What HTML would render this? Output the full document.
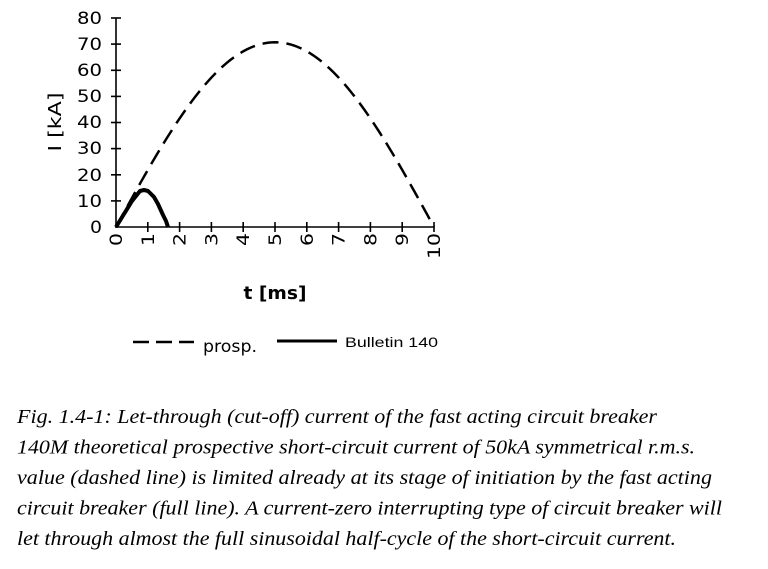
<!DOCTYPE html>
<html><head><meta charset="utf-8"><style>
html,body{margin:0;padding:0;background:#fff}
svg{display:block}
</style></head><body>
<svg width="768" height="569" viewBox="0 0 768 569" xmlns="http://www.w3.org/2000/svg">
<g stroke="#000" stroke-width="1.6" fill="none">
<line x1="116" y1="18" x2="116" y2="228"/>
<line x1="116" y1="227" x2="434" y2="227"/>
<line x1="111" y1="18.0" x2="121" y2="18.0"/>
<line x1="111" y1="44.1" x2="121" y2="44.1"/>
<line x1="111" y1="70.3" x2="121" y2="70.3"/>
<line x1="111" y1="96.4" x2="121" y2="96.4"/>
<line x1="111" y1="122.5" x2="121" y2="122.5"/>
<line x1="111" y1="148.6" x2="121" y2="148.6"/>
<line x1="111" y1="174.8" x2="121" y2="174.8"/>
<line x1="111" y1="200.9" x2="121" y2="200.9"/>
<line x1="147.8" y1="222" x2="147.8" y2="232"/>
<line x1="179.6" y1="222" x2="179.6" y2="232"/>
<line x1="211.4" y1="222" x2="211.4" y2="232"/>
<line x1="243.2" y1="222" x2="243.2" y2="232"/>
<line x1="275" y1="222" x2="275" y2="232"/>
<line x1="306.8" y1="222" x2="306.8" y2="232"/>
<line x1="338.6" y1="222" x2="338.6" y2="232"/>
<line x1="370.4" y1="222" x2="370.4" y2="232"/>
<line x1="402.2" y1="222" x2="402.2" y2="232"/>
<line x1="434" y1="222" x2="434" y2="232"/>
</g>
<g font-family="'DejaVu Sans',sans-serif" font-size="16.5" fill="#000" text-anchor="end">
<text x="102" y="24" textLength="25" lengthAdjust="spacingAndGlyphs">80</text>
<text x="102" y="50" textLength="25" lengthAdjust="spacingAndGlyphs">70</text>
<text x="102" y="76" textLength="25" lengthAdjust="spacingAndGlyphs">60</text>
<text x="102" y="102" textLength="25" lengthAdjust="spacingAndGlyphs">50</text>
<text x="102" y="128" textLength="25" lengthAdjust="spacingAndGlyphs">40</text>
<text x="102" y="154" textLength="25" lengthAdjust="spacingAndGlyphs">30</text>
<text x="102" y="181" textLength="25" lengthAdjust="spacingAndGlyphs">20</text>
<text x="102" y="207" textLength="25" lengthAdjust="spacingAndGlyphs">10</text>
<text x="102" y="233" textLength="12" lengthAdjust="spacingAndGlyphs">0</text>
</g>
<g font-family="'DejaVu Sans',sans-serif" font-size="16.5" fill="#000" text-anchor="end">
<text transform="translate(122,233) rotate(-90)" textLength="13" lengthAdjust="spacingAndGlyphs">0</text>
<text transform="translate(153.8,233) rotate(-90)" textLength="13" lengthAdjust="spacingAndGlyphs">1</text>
<text transform="translate(185.6,233) rotate(-90)" textLength="13" lengthAdjust="spacingAndGlyphs">2</text>
<text transform="translate(217.4,233) rotate(-90)" textLength="13" lengthAdjust="spacingAndGlyphs">3</text>
<text transform="translate(249.2,233) rotate(-90)" textLength="13" lengthAdjust="spacingAndGlyphs">4</text>
<text transform="translate(281,233) rotate(-90)" textLength="13" lengthAdjust="spacingAndGlyphs">5</text>
<text transform="translate(312.8,233) rotate(-90)" textLength="13" lengthAdjust="spacingAndGlyphs">6</text>
<text transform="translate(344.6,233) rotate(-90)" textLength="13" lengthAdjust="spacingAndGlyphs">7</text>
<text transform="translate(376.4,233) rotate(-90)" textLength="13" lengthAdjust="spacingAndGlyphs">8</text>
<text transform="translate(408.2,233) rotate(-90)" textLength="13" lengthAdjust="spacingAndGlyphs">9</text>
<text transform="translate(440,233) rotate(-90)" textLength="26" lengthAdjust="spacingAndGlyphs">10</text>
<text transform="translate(61,122) rotate(-90)" text-anchor="middle" font-size="18" textLength="59" lengthAdjust="spacingAndGlyphs">I [kA]</text>
</g>
<text x="275" y="299" text-anchor="middle" font-family="'DejaVu Sans',sans-serif" font-weight="bold" font-size="18" textLength="63" lengthAdjust="spacingAndGlyphs">t [ms]</text>
<path id="pros" fill="none" stroke="#000" stroke-width="2.5" stroke-dasharray="16,8" d=""/>
<path fill="none" stroke="#000" stroke-width="4" stroke-linejoin="round" d="M116,227 L124,214 L132,201 L140,191 L144,190 L148,191 L154,197 L158,204 L163,215 L166,221 L168,227"/>
<line x1="133" y1="342" x2="194" y2="342" stroke="#000" stroke-width="2.5" stroke-dasharray="16,7"/>
<text x="203" y="352" font-family="'DejaVu Sans',sans-serif" font-size="17" textLength="54" lengthAdjust="spacingAndGlyphs">prosp.</text>
<line x1="277" y1="341" x2="337" y2="341" stroke="#000" stroke-width="3"/>
<text x="345" y="347" font-family="'Liberation Sans',sans-serif" font-size="14" textLength="93" lengthAdjust="spacingAndGlyphs">Bulletin 140</text>
<g font-family="'Liberation Serif','Times New Roman',serif" font-style="italic" font-size="20" fill="#000">
<text x="17" y="423" textLength="640" lengthAdjust="spacingAndGlyphs">Fig. 1.4-1: Let-through (cut-off) current of the fast acting circuit breaker</text>
<text x="17" y="453.5" textLength="678" lengthAdjust="spacingAndGlyphs">140M theoretical prospective short-circuit current of 50kA symmetrical r.m.s.</text>
<text x="17" y="484" textLength="695" lengthAdjust="spacingAndGlyphs">value (dashed line) is limited already at its stage of initiation by the fast acting</text>
<text x="17" y="514.5" textLength="705" lengthAdjust="spacingAndGlyphs">circuit breaker (full line). A current-zero interrupting type of circuit breaker will</text>
<text x="17" y="545" textLength="659" lengthAdjust="spacingAndGlyphs">let through almost the full sinusoidal half-cycle of the short-circuit current.</text>
</g>
<script>
var d="";for(var i=0;i<=100;i++){var t=i/10;var x=116+31.8*t;var y=227-2.6125*70.7*Math.sin(Math.PI*t/10);d+=(i?"L":"M")+x.toFixed(2)+","+y.toFixed(2);}
document.getElementById("pros").setAttribute("d",d);
</script>
</svg>
</body></html>
